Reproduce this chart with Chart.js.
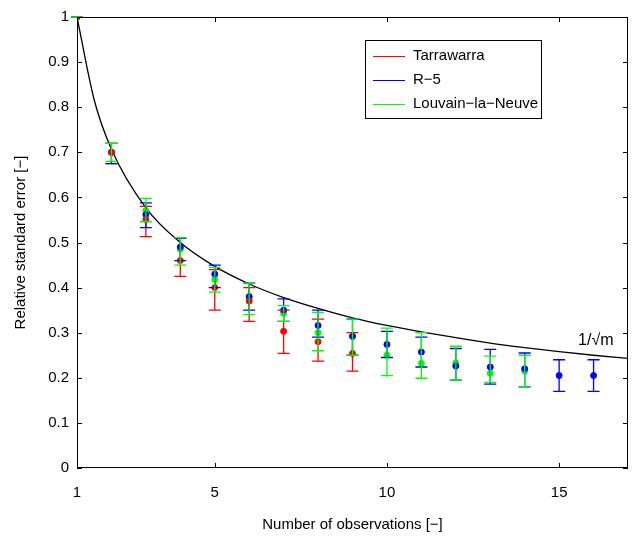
<!DOCTYPE html>
<html><head><meta charset="utf-8">
<script src="https://cdn.jsdelivr.net/npm/chart.js@4/dist/chart.umd.min.js"></script>
<style>html,body{margin:0;background:#fff}#wrap{width:632px;height:536px}</style>
</head><body><div id="wrap"><canvas id="c"></canvas></div>
<script>
// observations
const xs = [1,2,3,4,5,6,7,8,9,10,11,12,13,14,15,16];
const tarraMean = [1,0.70,0.551,0.46,0.40,0.37,0.303,0.28,0.254];
const tarraLow  = [1,0.675,0.513,0.425,0.35,0.325,0.254,0.237,0.215];
const tarraHigh = [1,0.72,0.58,0.51,0.44,0.40,0.35,0.33,0.30];
const r5Mean = [1,0.70,0.562,0.49,0.43,0.38,0.35,0.316,0.292,0.274,0.257,0.226,0.224,0.22,0.205,0.205];
const r5Low  = [1,0.675,0.533,0.46,0.40,0.35,0.325,0.29,0.25,0.245,0.224,0.195,0.186,0.18,0.17,0.17];
const r5High = [1,0.72,0.588,0.51,0.45,0.41,0.375,0.35,0.33,0.303,0.29,0.265,0.263,0.255,0.24,0.24];
const lnnMean = [1,0.70,0.571,0.485,0.418,0.374,0.343,0.30,0.292,0.25,0.232,0.233,0.21,0.215];
const lnnLow  = [1,0.68,0.546,0.45,0.39,0.34,0.325,0.26,0.25,0.205,0.199,0.195,0.19,0.18];
const lnnHigh = [1,0.72,0.598,0.511,0.445,0.41,0.36,0.345,0.33,0.31,0.30,0.27,0.248,0.25];
// reference curve 1/sqrt(m)
const curveX = [1,1.5,2,3,4,5,6,7,8,9,10,11,12,13,14,15,16,17];
const curveY = [1,0.816,0.707,0.577,0.5,0.447,0.408,0.378,0.354,0.333,0.316,0.302,0.289,0.277,0.267,0.258,0.25,0.243];
const xTicks = [1,5,10,15];

const series = [
  {label:'Tarrawarra', color:'#ff0000', m:tarraMean, lo:tarraLow, hi:tarraHigh},
  {label:'R\u22125', color:'#0000ff', m:r5Mean, lo:r5Low, hi:r5High},
  {label:'Louvain\u2212la\u2212Neuve', color:'#00ff00', m:lnnMean, lo:lnnLow, hi:lnnHigh}
];
const pts = (ys) => ys.map((y,i)=>({x:xs[i], y}));

const errorBars = {
  id:'errorBars',
  afterDatasetsDraw(chart){
    const {ctx, scales:{x,y}} = chart;
    ctx.save();
    ctx.lineWidth = 1.3;
    series.forEach(s=>{
      ctx.strokeStyle = s.color;
      s.m.forEach((v,i)=>{
        const px = x.getPixelForValue(xs[i]);
        const a = y.getPixelForValue(s.lo[i]), b = y.getPixelForValue(s.hi[i]);
        ctx.beginPath();
        ctx.moveTo(px,a); ctx.lineTo(px,b);
        ctx.moveTo(px-6,a); ctx.lineTo(px+6,a);
        ctx.moveTo(px-6,b); ctx.lineTo(px+6,b);
        ctx.stroke();
      });
    });
    ctx.restore();
  }
};

const frame = {
  id:'frame',
  afterDraw(chart){
    const {ctx, chartArea:a, scales:{x,y}} = chart;
    ctx.save();
    ctx.strokeStyle = '#000'; ctx.lineWidth = 1;
    ctx.strokeRect(a.left+0.5, a.top+0.5, a.width-1, a.height-1);
    ctx.beginPath();
    y.ticks.forEach(t=>{
      const py = Math.round(y.getPixelForValue(t.value))+0.5;
      ctx.moveTo(a.left,py); ctx.lineTo(a.left+5,py);
      ctx.moveTo(a.right,py); ctx.lineTo(a.right-5,py);
    });
    xTicks.forEach(v=>{
      const px = Math.round(x.getPixelForValue(v))+0.5;
      ctx.moveTo(px,a.bottom); ctx.lineTo(px,a.bottom-5);
      ctx.moveTo(px,a.top); ctx.lineTo(px,a.top+5);
    });
    ctx.stroke();
    // legend
    ctx.fillStyle = '#fff';
    ctx.fillRect(365,40,176,78);
    ctx.strokeRect(365.5,40.5,176,78);
    ctx.font = '15px "Liberation Sans", Arial, sans-serif';
    ctx.textBaseline = 'middle';
    series.forEach((s,i)=>{
      const ly = 56 + i*24;
      ctx.strokeStyle = s.color;
      ctx.beginPath(); ctx.moveTo(373,ly+0.5); ctx.lineTo(405,ly+0.5); ctx.stroke();
      ctx.fillStyle = '#000';
      ctx.fillText(s.label, 413, ly);
    });
    ctx.font = '16px "Liberation Sans", Arial, sans-serif';
    ctx.fillText('1/\u221am', x.getPixelForValue(15.55), y.getPixelForValue(0.282));
    ctx.restore();
  }
};

const datasets = [{
  type:'line', data: curveX.map((x,i)=>({x, y:curveY[i]})),
  borderColor:'#000', borderWidth:1.3, pointRadius:0, cubicInterpolationMode:'monotone', order:5
}];
series.forEach(s=>datasets.push({
  type:'scatter', data:pts(s.m), backgroundColor:s.color, borderColor:s.color,
  pointRadius:3, pointHoverRadius:3
}));

new Chart(document.getElementById('c'), {
  data:{datasets},
  options:{
    responsive:true, maintainAspectRatio:false, animation:false,
    layout:{padding:{left:8,right:0,top:16,bottom:0}},
    plugins:{legend:{display:false}, tooltip:{enabled:false}},
    scales:{
      x:{type:'linear', min:1, max:17,
        afterBuildTicks: ax => { ax.ticks = xTicks.map(v=>({value:v})); },
        afterFit: ax => { ax.height = 68; },
        grid:{display:false, drawTicks:false}, border:{display:false},
        ticks:{color:'#000', padding:16, font:{family:'"Liberation Sans", Arial', size:15}},
        title:{display:true, text:'Number of observations [\u2212]', color:'#000', padding:{top:4,bottom:2},
          font:{family:'"Liberation Sans", Arial', size:15}}},
      y:{min:0, max:1,
        afterFit: ax => { ax.width = 69; },
        ticks:{stepSize:0.1, color:'#000', padding:8, font:{family:'"Liberation Sans", Arial', size:15},
          callback:v=>Math.round(v*10)/10},
        grid:{display:false, drawTicks:false}, border:{display:false},
        title:{display:true, text:'Relative standard error [\u2212]', color:'#000', padding:{top:4,bottom:4},
          font:{family:'"Liberation Sans", Arial', size:15}}}
    }
  },
  plugins:[errorBars, frame]
});
</script></body></html>
